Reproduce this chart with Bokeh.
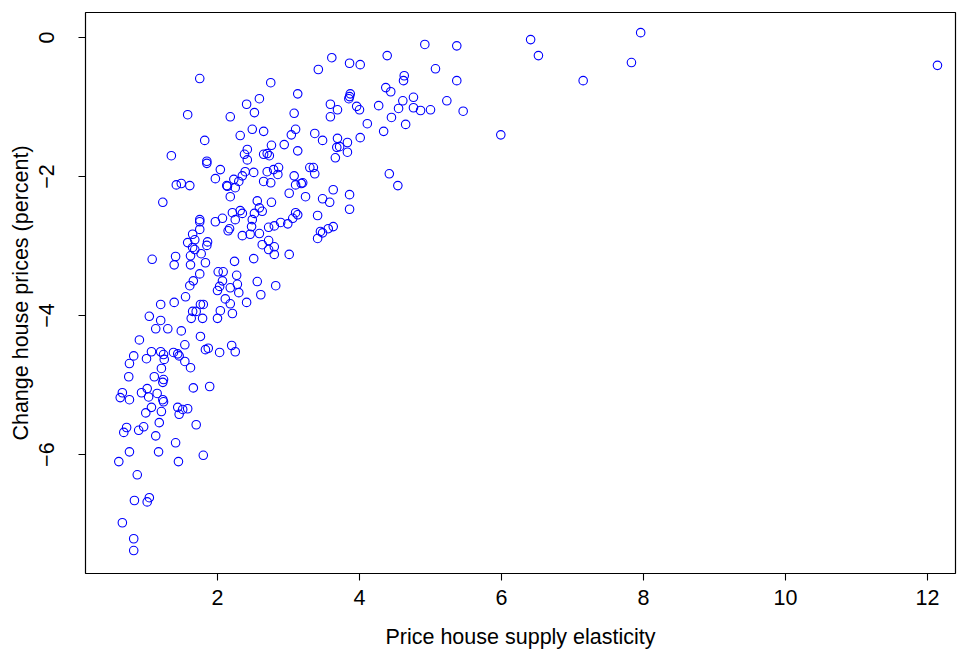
from bokeh.plotting import figure
from bokeh.models import ColumnDataSource, FixedTicker, Range1d
from bokeh.embed import file_html
from bokeh.resources import INLINE

# Price house supply elasticity (x) and change in house prices, percent (y)
elasticity = [
    1.07, 0.99, 1.21, 1.44, 1.51, 1.58, 1.46, 1.18, 0.96, 0.89, 0.72, 0.68, 1.13, 1.70, 1.41, 0.76, 1.17, 0.61, 1.45, 1.80,
    0.87, 0.83, 1.04, 1.01, 0.66, 0.82, 0.82,
    1.08, 1.39, 1.62, 1.83, 2.01, 2.08, 2.27, 1.75, 1.66, 1.61, 2.03, 2.00, 2.18, 2.28, 2.30, 2.07, 1.55, 1.20, 1.39, 2.11,
    2.18, 1.76, 1.80, 1.65, 1.70, 2.04, 2.21, 1.04, 1.20, 1.63, 1.79, 2.00, 1.13, 1.30, 1.49, 1.76, 0.90, 1.54, 2.20, 2.25,
    2.03, 1.83, 1.87, 1.07, 1.20, 1.24, 1.25, 1.00, 0.82, 0.76, 1.38, 1.44, 1.46, 1.54, 1.62, 1.21, 0.75, 1.11, 1.24, 1.23,
    1.66, 1.89, 1.01, 0.93, 0.66, 0.63, 0.76, 1.03, 1.15, 1.23, 1.24,
    1.82, 2.32, 2.49, 2.65, 1.35, 1.85, 1.85, 2.04, 1.97, 1.42, 1.49, 1.61, 2.13, 2.14, 2.23, 2.30, 2.25, 2.35, 2.39, 2.51,
    2.42, 2.38, 2.42, 2.65, 2.70, 2.73, 2.76, 2.70, 2.79, 2.86, 2.85, 2.65, 2.75, 2.18, 1.23, 2.56, 2.76, 2.59, 2.63, 2.52,
    2.21, 2.32, 2.35, 2.07, 1.97, 2.25, 2.49, 1.75, 1.75, 1.75, 2.17, 2.15, 2.48, 2.72, 2.80, 2.89, 2.35, 2.46, 2.59, 1.65,
    1.68, 1.58, 1.86, 1.85, 2.72, 2.63, 2.72, 2.80, 1.65, 1.68, 1.62, 1.77, 1.41, 2.24, 2.51, 2.80,
    1.75, 1.58, 2.75, 2.59, 2.41, 2.52, 2.18,
    2.56, 2.82, 2.61, 2.41,
    3.61, 4.39, 3.42, 3.86, 4.01, 4.63, 4.62, 3.13, 4.37, 4.44, 3.87, 3.86, 3.85, 4.61, 4.76, 4.76, 4.86, 3.59, 3.69, 3.59,
    3.96, 4.00, 4.27, 4.55, 4.45, 4.65, 3.08, 4.11, 4.34, 3.10, 3.04, 2.94, 3.37, 3.48, 3.69, 3.83, 4.01, 3.68, 3.72, 3.13,
    3.83,
    3.66, 3.30, 3.35, 3.37, 3.08, 3.10, 3.18, 3.20, 3.01, 3.24, 3.63, 3.86, 3.48, 3.58, 4.42, 4.54, 3.86, 3.10, 3.13, 3.06,
    2.99, 3.41, 3.45, 3.48, 3.41, 3.56, 3.63, 3.01,
    4.92, 5.37, 6.41, 6.52, 5.07, 5.37, 5.23, 5.00, 5.46, 5.99,
    7.15, 7.83, 7.96, 12.14,
]

price_change = [
    -5.32, -5.40, -5.38, -5.32, -5.35, -5.34, -5.42, -5.54, -5.60, -5.65, -5.61, -5.68, -5.73, -5.57, -5.83, -5.96, -5.96, -6.10, -6.10, -6.01,
    -6.29, -6.66, -6.62, -6.68, -6.98, -7.21, -7.38,
    -3.19, -3.27, -3.27, -3.24, -3.37, -3.37, -3.42, -3.40, -3.50, -3.57, -3.58, -3.64, -3.60, -3.55, -3.67, -3.50, -3.73, -3.84, -3.81, -3.76,
    -3.83, -3.84, -3.84, -3.94, -3.94, -3.93, -3.97, -4.01, -4.07, -4.04, -4.04, -4.04, -4.19, -4.19, -4.22, -4.30, -4.35, -4.42, -4.43, -4.52,
    -4.53, -4.49, -4.47, -4.52, -4.52, -4.56, -4.63, -4.62, -4.58, -4.69, -4.53, -4.55, -4.58, -4.66, -4.75, -4.76, -4.88, -4.88, -4.92, -4.96,
    -5.04, -5.02, -5.05, -5.11, -5.11, -5.18, -5.21, -5.17, -5.12, -5.21, -5.24,
    -1.48, -1.41, -1.32, -1.35, -1.70, -1.78, -1.81, -1.90, -2.03, -2.12, -2.10, -2.13, -2.13, -2.14, -2.04, -2.07, -2.16, -1.99, -1.93, -1.94,
    -1.61, -1.68, -1.76, -1.68, -1.67, -1.70, -1.55, -1.93, -1.90, -1.87, -1.97, -2.07, -2.09, -2.29, -2.37, -2.35, -2.37, -2.45, -2.50, -2.53,
    -2.52, -2.49, -2.53, -2.60, -2.65, -2.62, -2.62, -2.62, -2.65, -2.76, -2.75, -2.78, -2.72, -2.73, -2.71, -2.66, -2.85, -2.83, -2.82, -2.83,
    -2.91, -2.95, -2.94, -2.99, -2.92, -2.98, -3.05, -3.01, -3.02, -3.05, -3.14, -3.11, -3.15, -3.22, -3.18, -3.12,
    -0.59, -1.11, -0.65, -0.88, -0.96, -1.08, -1.14,
    -3.51, -3.57, -3.70, -3.81,
    -0.29, -0.26, -0.46, -0.37, -0.39, -0.55, -0.62, -0.81, -0.72, -0.78, -0.81, -0.85, -0.88, -0.91, -0.86, -1.01, -1.05, -0.96, -1.04, -1.14,
    -0.99, -1.04, -0.98, -1.02, -1.15, -1.25, -1.09, -1.24, -1.35, -1.32, -1.40, -1.54, -1.38, -1.48, -1.45, -1.51, -1.44, -1.58, -1.57, -1.63,
    -1.65,
    -1.73, -1.87, -1.87, -1.96, -1.99, -2.12, -2.10, -2.09, -2.24, -2.29, -2.19, -2.26, -2.32, -2.37, -1.96, -2.13, -2.47, -2.52, -2.55, -2.60,
    -2.68, -2.56, -2.79, -2.81, -2.89, -2.75, -2.72, -3.12,
    -0.10, -0.12, -0.03, -0.26, -0.45, -0.62, -0.91, -1.04, -1.06, -1.40,
    -0.62, -0.36, 0.07, -0.40,
]

x_ticks = [2, 4, 6, 8, 10, 12]
y_ticks = [0, -2, -4, -6]
x_title = "Price house supply elasticity"
y_title = "Change house prices (percent)"

FONT = "Liberation Sans"
FS = "21.5px"

src = ColumnDataSource(dict(x=elasticity, y=price_change))

p = figure(width=958, height=658, output_backend="svg", toolbar_location=None,
           x_range=Range1d(0.141, 12.394), y_range=Range1d(-7.71, 0.36),
           min_border_left=85, min_border_right=3, min_border_top=12, min_border_bottom=85)

p.scatter("x", "y", source=src, marker="circle", size=8.5, line_width=1.1,
          line_color="blue", fill_color=None)

p.grid.visible = False
p.outline_line_color = "black"
p.outline_line_width = 1.2
p.background_fill_color = "white"
p.border_fill_color = "white"

for ax in (p.xaxis[0], p.yaxis[0]):
    ax.axis_line_color = None
    ax.major_tick_out = 7
    ax.major_tick_in = 0
    ax.minor_tick_line_color = None
    ax.major_tick_line_color = "black"
    ax.major_tick_line_width = 1.1
    ax.major_label_text_font = FONT
    ax.major_label_text_font_size = FS
    ax.major_label_text_color = "black"
    ax.axis_label_text_font = FONT
    ax.axis_label_text_font_size = FS
    ax.axis_label_text_font_style = "normal"
    ax.axis_label_text_color = "black"

p.xaxis[0].ticker = FixedTicker(ticks=x_ticks)
p.yaxis[0].ticker = FixedTicker(ticks=y_ticks)
p.yaxis[0].major_label_overrides = {t: str(t).replace("-", "\u2212") for t in y_ticks}
p.yaxis[0].major_label_orientation = "vertical"

p.xaxis[0].axis_label = x_title
p.yaxis[0].axis_label = y_title
p.xaxis[0].major_label_standoff = 9
p.xaxis[0].axis_label_standoff = 17
p.yaxis[0].major_label_standoff = 24
p.yaxis[0].axis_label_standoff = 4

open("out.html", "w").write(file_html(p, INLINE))
